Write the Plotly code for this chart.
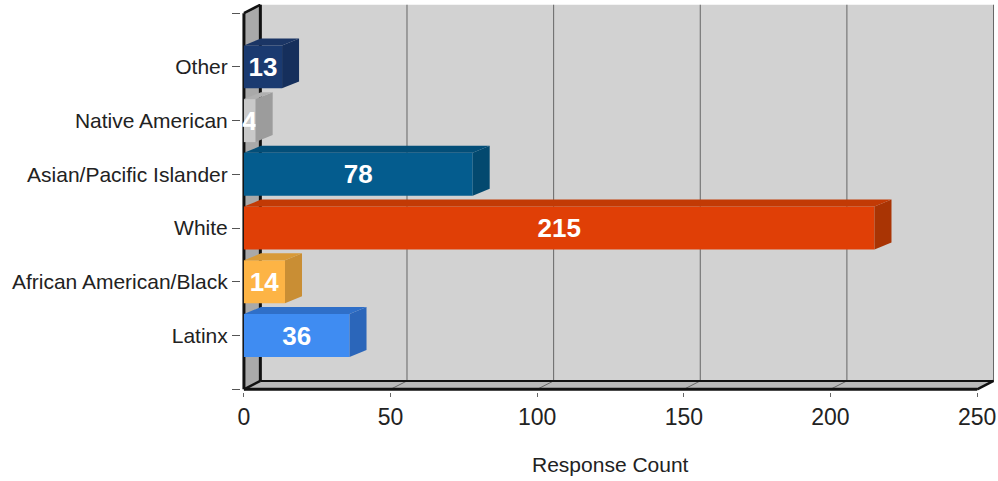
import plotly.graph_objects as go

categories = ["Latinx", "African American/Black", "White", "Asian/Pacific Islander", "Native American", "Other"]
values = [36, 14, 215, 78, 4, 13]
front_colors = ["#3f8cf2", "#fdb445", "#e03f06", "#045c8e", "#c9c9c9", "#1a3a70"]
side_colors = ["#2b66ba", "#c98e34", "#a93404", "#03496f", "#9c9c9c", "#152f5c"]
top_colors = ["#2f6fc8", "#d89a38", "#c23a05", "#034e78", "#b0b0b0", "#1a3565"]
x_ticks = [0, 50, 100, 150, 200, 250]

BAR_W = 0.8
BAR_DX, BAR_DY = 5.8, 0.13
WALL_DX, WALL_DY = 5.6, 0.156
Y_MIN, Y_MAX, X_MAX = -1, 6, 250
positions = list(range(len(categories)))

fig = go.Figure()


def poly(xs, ys, color):
    fig.add_trace(go.Scatter(x=xs + xs[:1], y=ys + ys[:1], mode="lines", fill="toself",
                             fillcolor=color, line=dict(width=0), hoverinfo="skip", showlegend=False))


for p, v, sc, tc in zip(positions, values, side_colors, top_colors):
    yb, yt = p - BAR_W / 2, p + BAR_W / 2
    poly([v, v + BAR_DX, v + BAR_DX, v], [yb, yb + BAR_DY, yt + BAR_DY, yt], sc)
    poly([0, BAR_DX, v + BAR_DX, v], [yt, yt + BAR_DY, yt + BAR_DY, yt], tc)

fig.add_trace(go.Bar(
    y=positions, x=values, orientation="h", width=BAR_W, base=0,
    marker=dict(color=front_colors, line=dict(width=0)),
    text=[str(v) for v in values], textposition="inside", insidetextanchor="middle",
    textangle=0, constraintext="none", cliponaxis=False,
    textfont=dict(family="Liberation Sans", size=26, color="white", weight="bold"),
    hoverinfo="skip", showlegend=False,
))


def shape_path(pts, fill, line_w=0, line_c="rgba(0,0,0,0)"):
    path = "M " + " L ".join(f"{x} {y}" for x, y in pts) + " Z"
    return dict(type="path", path=path, xref="x", yref="y", layer="below",
                fillcolor=fill, line=dict(width=line_w, color=line_c))


def seg(x0, y0, x1, y1, w, c):
    return dict(type="line", x0=x0, y0=y0, x1=x1, y1=y1, xref="x", yref="y", layer="below",
                line=dict(width=w, color=c))


bx, by = WALL_DX, WALL_DY
shapes = [
    shape_path([(bx, Y_MIN + by), (X_MAX + bx, Y_MIN + by), (X_MAX + bx, Y_MAX + by), (bx, Y_MAX + by)], "#d2d2d2"),
    shape_path([(0, Y_MIN), (bx, Y_MIN + by), (bx, Y_MAX + by), (0, Y_MAX)], "#a9a9a9"),
    shape_path([(0, Y_MIN), (bx, Y_MIN + by), (X_MAX + bx, Y_MIN + by), (X_MAX, Y_MIN)], "#b9b9b9"),
]
for t in x_ticks[1:]:
    shapes.append(seg(t + bx, Y_MAX + by, t + bx, Y_MIN + by, 1, "#666666"))
    shapes.append(seg(t + bx, Y_MIN + by, t, Y_MIN, 1, "#666666"))
shapes += [
    seg(0, Y_MIN, 0, Y_MAX, 3, "#111111"),
    seg(bx, Y_MIN + by, bx, Y_MAX + by, 3, "#111111"),
    seg(0, Y_MAX, bx, Y_MAX + by, 2.5, "#111111"),
    seg(0, Y_MIN, X_MAX, Y_MIN, 3, "#111111"),
    seg(bx, Y_MIN + by, X_MAX + bx, Y_MIN + by, 2, "#111111"),
    seg(0, Y_MIN, bx, Y_MIN + by, 2.5, "#111111"),
    seg(X_MAX, Y_MIN, X_MAX + bx, Y_MIN + by, 2.5, "#111111"),
]

fig.update_layout(
    width=998, height=481, autosize=False,
    margin=dict(l=241, r=3, t=4, b=89),
    paper_bgcolor="white", plot_bgcolor="white",
    shapes=shapes, barmode="overlay", showlegend=False,
    font=dict(family="Liberation Sans", color="#222222"),
    xaxis=dict(range=[-1, 256.1], tickvals=x_ticks, ticktext=[str(t) for t in x_ticks],
               showgrid=False, zeroline=False, showline=False, ticks="outside", ticklen=4,
               tickcolor="#666666", tickfont=dict(size=23, color="#222222"),
               ticklabelstandoff=0),
    yaxis=dict(range=[-1.05, 6.17], tickvals=[Y_MIN] + positions + [Y_MAX],
               ticktext=[""] + categories + [""],
               showgrid=False, zeroline=False, showline=False, ticks="outside", ticklen=8,
               tickcolor="#555555", tickfont=dict(size=21, color="#222222")),
    annotations=[dict(text="Response Count", xref="x", x=X_MAX / 2, yref="paper", y=0, yanchor="middle",
                      yshift=-72, showarrow=False, font=dict(size=21, color="#222222"))],
)
fig.write_html("out.html", config={"displayModeBar": False},
               post_script="document.body.style.margin='0';document.body.style.overflow='hidden';")
